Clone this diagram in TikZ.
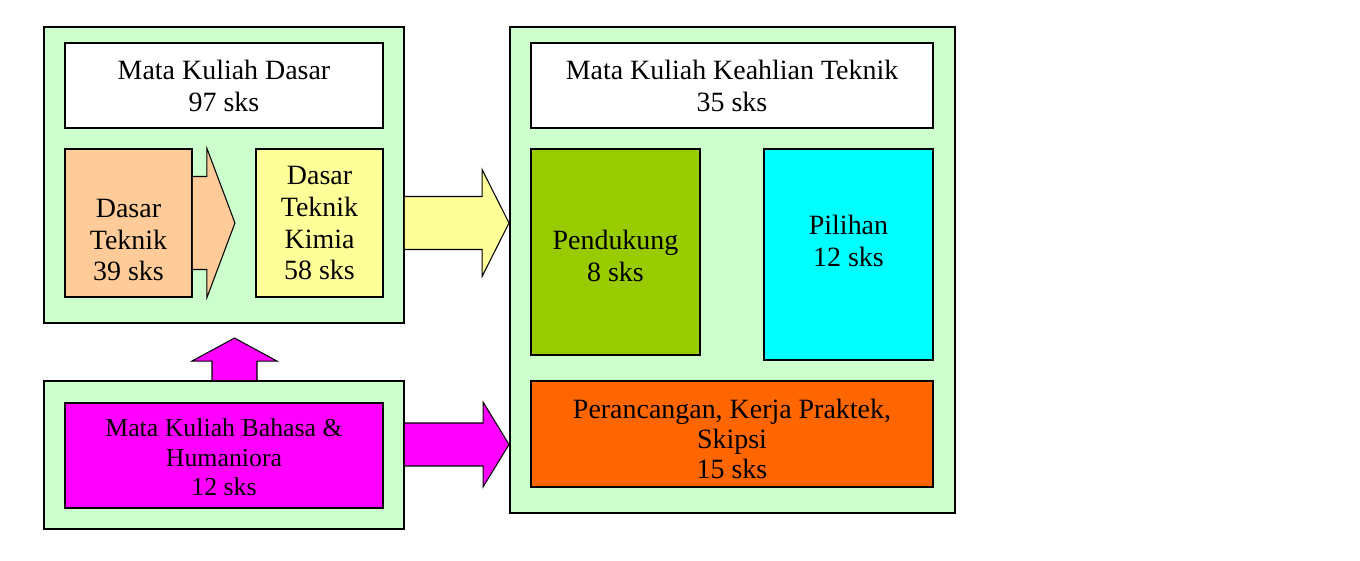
\documentclass[tikz,border=0pt]{standalone}
\usepackage{fontspec}
\setmainfont{Liberation Serif}
\usetikzlibrary{calc,fit}

\definecolor{panelhijau}{HTML}{CCFFCC}
\definecolor{persik}{HTML}{FFCC99}
\definecolor{kuningmuda}{HTML}{FFFF99}
\definecolor{hijaudaun}{HTML}{99CC00}
\definecolor{sian}{HTML}{00FFFF}
\definecolor{oranye}{HTML}{FF6600}
\definecolor{magenta}{HTML}{FF00FF}

\tikzset{
  panel/.style={draw=black, line width=1.1pt, fill=panelhijau, inner sep=0pt},
  kotak/.style={draw=black, line width=1.1pt, inner sep=0pt},
  teks/.style={align=center, inner sep=0pt, font=\fontsize{15.9}{18.2}\selectfont},
  tekskecil/.style={align=center, inner sep=0pt, font=\fontsize{14.7}{16.8}\selectfont},
  panah/.style={draw=black, line width=0.6pt},
}

% horizontal block arrow: style, from, tip, body half, head half, head length
\newcommand{\blokpanah}[6]{%
  \filldraw[panah, #1] ($(#2)+(0,-#4)$) -- ($(#3)+(-#6,-#4)$) -- ($(#3)+(-#6,-#5)$)
    -- (#3) -- ($(#3)+(-#6,#5)$) -- ($(#3)+(-#6,#4)$) -- ($(#2)+(0,#4)$);}

\begin{document}
\begin{tikzpicture}[x=0.02cm, y=-0.02cm]
  \useasboundingbox (0,0) rectangle (1360,561);

  % Panels
  \node[panel, fit={(44,27) (404,323)}]   (dasarpanel) {};
  \node[panel, fit={(44,381) (404,529)}]  (bahasapanel) {};
  \node[panel, fit={(510,27) (955,513)}]  (keahlianpanel) {};

  % Mata kuliah dasar
  \node[kotak, fill=white, fit={(65,43) (383,128)}] (mkdasar) {};
  \node[teks] (mkdasarteks) at (mkdasar) {Mata Kuliah Dasar\\97 sks};

  \node[kotak, fill=persik, fit={(65,149) (192,297)}] (dt) {};
  \coordinate (dtujung) at ($(dt.east)+(42,0)$);
  \blokpanah{fill=persik}{dt.east}{dtujung}{46.5}{74.5}{28}
  \node[teks] (dtteks) at ($(dt)+(0,17)$) {Dasar\\Teknik\\39 sks};

  \node[kotak, fill=kuningmuda, fit={(256,149) (383,297)}] (dtk) {};
  \node[teks] (dtkteks) at (dtk) {Dasar\\Teknik\\Kimia\\58 sks};

  % Mata kuliah keahlian teknik
  \node[kotak, fill=white, fit={(531,43) (933,128)}] (mkkeahlian) {};
  \node[teks] (mkkeahlianteks) at (mkkeahlian) {Mata Kuliah Keahlian Teknik\\35 sks};

  \node[kotak, fill=hijaudaun, fit={(531,149) (700,355)}] (pendukung) {};
  \node[teks] (pendukungteks) at ($(pendukung)+(0,4)$) {Pendukung\\8 sks};

  \node[kotak, fill=sian, fit={(764,149) (933,360)}] (pilihan) {};
  \node[teks] (pilihanteks) at ($(pilihan)+(0,-14)$) {Pilihan\\12 sks};

  \node[kotak, fill=oranye, fit={(531,381) (933,487)}] (perancangan) {};
  \node[teks, font=\fontsize{15.9}{17}\selectfont] (perancanganteks) at ($(perancangan)+(0,5)$)
    {Perancangan, Kerja Praktek,\\Skipsi\\15 sks};

  % Mata kuliah bahasa
  \node[kotak, fill=magenta, fit={(65,403) (383,508)}] (bahasa) {};
  \node[tekskecil] (bahasateks) at ($(bahasa)+(0,2)$) {Mata Kuliah Bahasa \&\\Humaniora\\12 sks};

  % Block arrows between panels
  \blokpanah{fill=kuningmuda}{dasarpanel.east |- dtk}{keahlianpanel.west |- dtk}{26.5}{53.5}{27}

  \coordinate (bahasakanan) at ($(bahasapanel.east)+(0,-10.5)$);
  \blokpanah{fill=magenta}{bahasakanan}{keahlianpanel.west |- bahasakanan}{21.5}{42.5}{26}

  \coordinate (bahasaatas) at ($(bahasapanel.north)+(10.5,0)$);
  \coordinate (bahasaujung) at ($(bahasaatas)+(0,-42)$);
  \filldraw[panah, fill=magenta] ($(bahasaatas)+(-22.5,0)$) -- ($(bahasaujung)+(-22.5,23)$)
    -- ($(bahasaujung)+(-42.5,23)$) -- (bahasaujung) -- ($(bahasaujung)+(42.5,23)$)
    -- ($(bahasaujung)+(22.5,23)$) -- ($(bahasaatas)+(22.5,0)$);

\end{tikzpicture}
\end{document}
